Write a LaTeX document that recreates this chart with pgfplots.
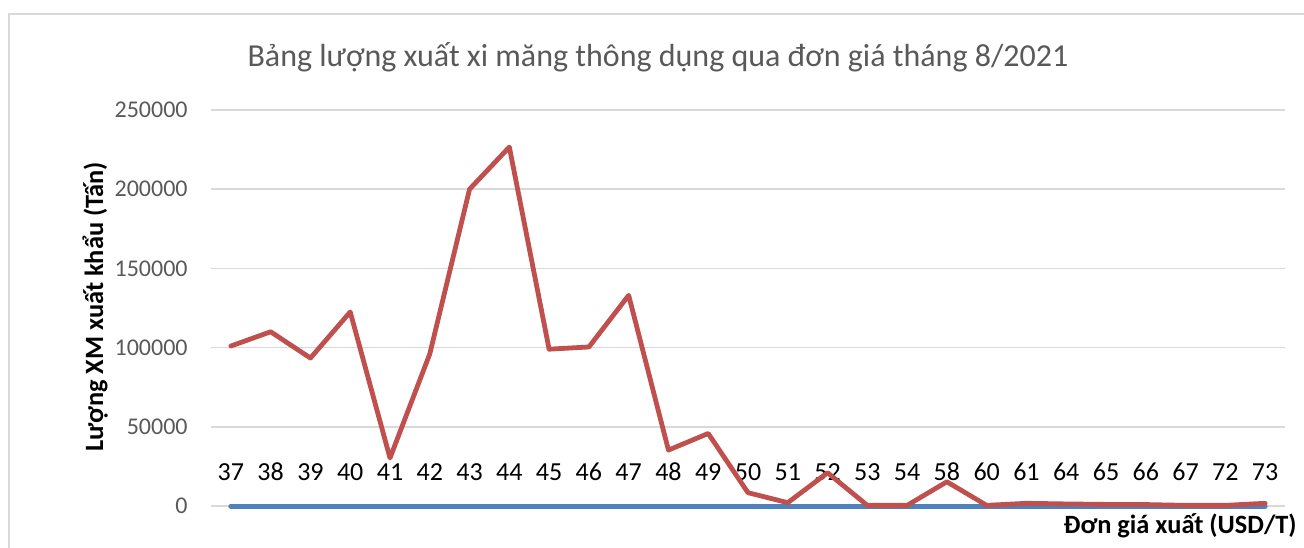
\documentclass[border=0pt]{standalone}
\usepackage{pgfplots}
\pgfplotsset{compat=1.18}
\usepackage{fontspec}
\setmainfont{Carlito}
\definecolor{xred}{RGB}{192,80,77}
\definecolor{xblue}{RGB}{79,129,189}
\definecolor{gridc}{RGB}{217,217,217}
\definecolor{txt}{RGB}{89,89,89}
\begin{document}
\begin{tikzpicture}[x=0.5pt,y=0.5pt]
\useasboundingbox (0,0) rectangle (1304,547);
\draw[gridc, line width=0.75pt] (9,-20) -- (9,533) -- (1330,533);
\node[txt, font=\fontsize{16}{18}\selectfont] at (658,490) {Bảng lượng xuất xi măng thông dụng qua đơn giá tháng 8/2021};
\node[rotate=90, font=\fontsize{13.2}{15}\selectfont\bfseries] at (95,240) {Lượng XM xuất khẩu (Tấn)};
\node[anchor=east, inner sep=0pt, font=\fontsize{13.2}{15}\selectfont\bfseries] at (1297,21) {Đơn giá xuất (USD/T)};
\begin{axis}[
  at={(105.5pt,20.5pt)}, anchor=south west,
  scale only axis, width=537pt, height=198pt,
  xmin=-0.5, xmax=26.5, ymin=0, ymax=250000,
  ytick={0,50000,100000,150000,200000,250000},
  xtick={0,...,26},
  xticklabels={37,38,39,40,41,42,43,44,45,46,47,48,49,50,51,52,53,54,58,60,61,64,65,66,67,72,73},
  ymajorgrids, grid style={gridc, line width=0.75pt},
  axis line style={draw=none},
  major tick length=0pt,
  scaled y ticks=false,
  /pgf/number format/assume math mode=true,
  yticklabel={\pgfmathprintnumber[fixed,1000 sep={}]{\tick}},
  yticklabel style={anchor=east, inner sep=0pt, xshift=-11.5pt, text=txt, font=\fontsize{12}{14}\selectfont},
  xticklabel style={anchor=base, inner sep=0pt, yshift=13pt, text=black, font=\fontsize{13}{15}\selectfont},
  clip=false,
]
\addplot[xblue, line width=2.5pt, line cap=round] coordinates {
(0,0)(1,0)(2,0)(3,0)(4,0)(5,0)(6,0)(7,0)(8,0)(9,0)(10,0)(11,0)(12,0)(13,0)(14,0)(15,0)(16,0)(17,0)(18,0)(19,0)(20,0)(21,0)(22,0)(23,0)(24,0)(25,0)(26,0)};
\addplot[xred, line width=2.4pt, line join=round, line cap=round] coordinates {
(0,101000)(1,110000)(2,93400)(3,122500)(4,30300)(5,96000)(6,200000)(7,226600)(8,99000)(9,100400)(10,133000)(11,35300)(12,45800)(13,8400)(14,2100)(15,21000)(16,400)(17,400)(18,15300)(19,400)(20,1700)(21,1300)(22,1000)(23,900)(24,400)(25,400)(26,1700)};
\end{axis}
\end{tikzpicture}
\end{document}
